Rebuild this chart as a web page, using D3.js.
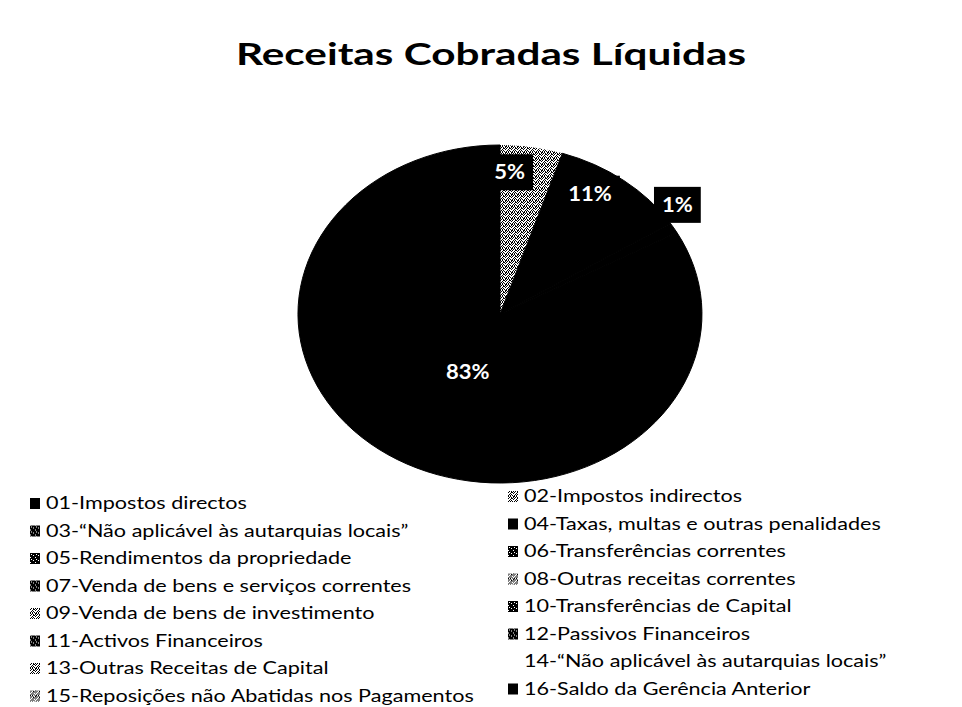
<!DOCTYPE html>
<html>
<head>
<meta charset="utf-8">
<script src="https://cdn.jsdelivr.net/npm/d3@7"></script>
<style>
  body { margin: 0; background: #fff; }
  text { font-family: Lato, "Open Sans", sans-serif; }
</style>
</head>
<body>
<svg id="chart" width="962" height="707"></svg>
<script>
var title = "Receitas Cobradas Líquidas";

var categories = [
    "01-Impostos directos",
    "02-Impostos indirectos",
    "03-“Não aplicável às autarquias locais”",
    "04-Taxas, multas e outras penalidades",
    "05-Rendimentos da propriedade",
    "06-Transferências correntes",
    "07-Venda de bens e serviços correntes",
    "08-Outras receitas correntes",
    "09-Venda de bens de investimento",
    "10-Transferências de Capital",
    "11-Activos Financeiros",
    "12-Passivos Financeiros",
    "13-Outras Receitas de Capital",
    "14-“Não aplicável às autarquias locais”",
    "15-Reposições não Abatidas nos Pagamentos",
    "16-Saldo da Gerência Anterior"
];

// percent of total
var shares = [0, 5, 0, 11, 1, 83, 0, 0, 0, 0, 0, 0, 0, 0, 0, 0];

var svg = d3.select("#chart");
var defs = svg.append("defs");

// pie geometry (the scan is stretched, so the circle ends up an ellipse)
var cx = 500, cy = 314, rx = 202, ry = 169;

// speckle patterns that stand in for the scanned greys
var lightDots = [[0, 0], [2, 0], [5, 0], [1, 1], [3, 1], [4, 2], [0, 2], [2, 3], [5, 3],
                 [1, 4], [3, 4], [0, 5], [4, 5], [2, 5], [5, 1], [3, 2]];
function speckle(id, bg, fg, dots, size, tf) {
    var p = defs.append("pattern").attr("id", id)
        .attr("patternUnits", "userSpaceOnUse")
        .attr("width", size).attr("height", size);
    if (tf) p.attr("patternTransform", tf);
    p.append("rect").attr("width", size).attr("height", size).attr("fill", bg);
    dots.forEach(function (d) {
        p.append("rect").attr("x", d[0]).attr("y", d[1]).attr("width", 1).attr("height", 1).attr("fill", fg);
    });
}
speckle("light", "#fff", "#000", lightDots, 6);
speckle("lightPie", "#fff", "#000", lightDots, 6, "scale(" + (1 / rx) + "," + (1 / ry) + ")");
speckle("dark", "#000", "#fff", [[1, 1], [3, 2], [0, 4]], 5);

var swatch = d3.scaleOrdinal()
    .domain(categories)
    .range(["#000", "url(#light)", "url(#dark)", "#000", "url(#dark)", "url(#dark)", "url(#dark)", "url(#light)",
            "url(#light)", "url(#dark)", "url(#dark)", "url(#dark)", "url(#light)", "none", "url(#light)", "#000"]);
var sliceFill = function (name) {
    return swatch(name) == "url(#light)" ? "url(#lightPie)" : "#000";
};

// title
svg.append("text")
    .attr("x", 491)
    .attr("y", 65)
    .attr("text-anchor", "middle")
    .attr("font-size", 30)
    .attr("font-weight", "bold")
    .attr("textLength", 510)
    .attr("lengthAdjust", "spacingAndGlyphs")
    .text(title);

var pieData = categories.map(function (c, i) { return { name: c, value: shares[i] }; });
var pie = d3.pie().sort(null).value(function (d) { return d.value; });
var arcs = pie(pieData);
var arc = d3.arc().innerRadius(0).outerRadius(1);

var g = svg.append("g")
    .attr("transform", "translate(" + cx + "," + cy + ") scale(" + rx + "," + ry + ")");
g.selectAll("path")
    .data(arcs.filter(function (d) { return d.value > 0; }))
    .enter()
    .append("path")
    .attr("d", arc)
    .attr("fill", function (d) { return sliceFill(d.data.name); })
    .attr("stroke", function (d) { return sliceFill(d.data.name) == "#000" ? "#000" : "none"; })
    .attr("stroke-width", 1)
    .attr("vector-effect", "non-scaling-stroke");

// data labels: white bold text on black boxes
var labels = svg.append("g");
arcs.filter(function (d) { return d.value > 0; }).forEach(function (d) {
    var a = (d.startAngle + d.endAngle) / 2 - 0.1;
    var r = d.value < 3 ? 1.09 : (d.value > 50 ? 0.38 : 0.84);
    var x = cx + Math.sin(a) * r * rx;
    var y = cy - Math.cos(a) * r * ry;
    var lg = labels.append("g").attr("transform", "translate(" + x + "," + y + ")");
    var t = lg.append("text")
        .attr("text-anchor", "middle")
        .attr("dy", "0.36em")
        .attr("font-size", 20)
        .attr("font-weight", "bold")
        .attr("fill", "#fff")
        .attr("transform", "scale(1.1,1)")
        .text(d.value + "%");
    var bb = t.node().getBBox();
    lg.insert("rect", "text")
        .attr("x", -bb.width * 1.1 / 2 - 8)
        .attr("y", -18)
        .attr("width", bb.width * 1.1 + 16)
        .attr("height", 36)
        .attr("fill", "#000");
});

// legend, two columns (the scan is slightly tilted, right column sits higher)
var legend = svg.append("g");
var rowStep = 27.5;
var items = legend.selectAll("g")
    .data(categories)
    .enter()
    .append("g")
    .attr("transform", function (d, i) {
        var col = i % 2, row = Math.floor(i / 2);
        var x = col == 0 ? 30 : 508;
        var y = (col == 0 ? 503 : 496) + row * rowStep;
        return "translate(" + x + "," + y + ")";
    });

items.append("rect")
    .attr("x", 0)
    .attr("y", -5)
    .attr("width", 10)
    .attr("height", 11)
    .attr("fill", function (d) { return swatch(d); });

items.append("text")
    .attr("x", 0)
    .attr("dy", "0.36em")
    .attr("font-size", 18)
    .attr("fill", "#000")
    .attr("transform", "translate(16,0) scale(1.2,1)")
    .text(function (d) { return d; });
</script>
</body>
</html>
